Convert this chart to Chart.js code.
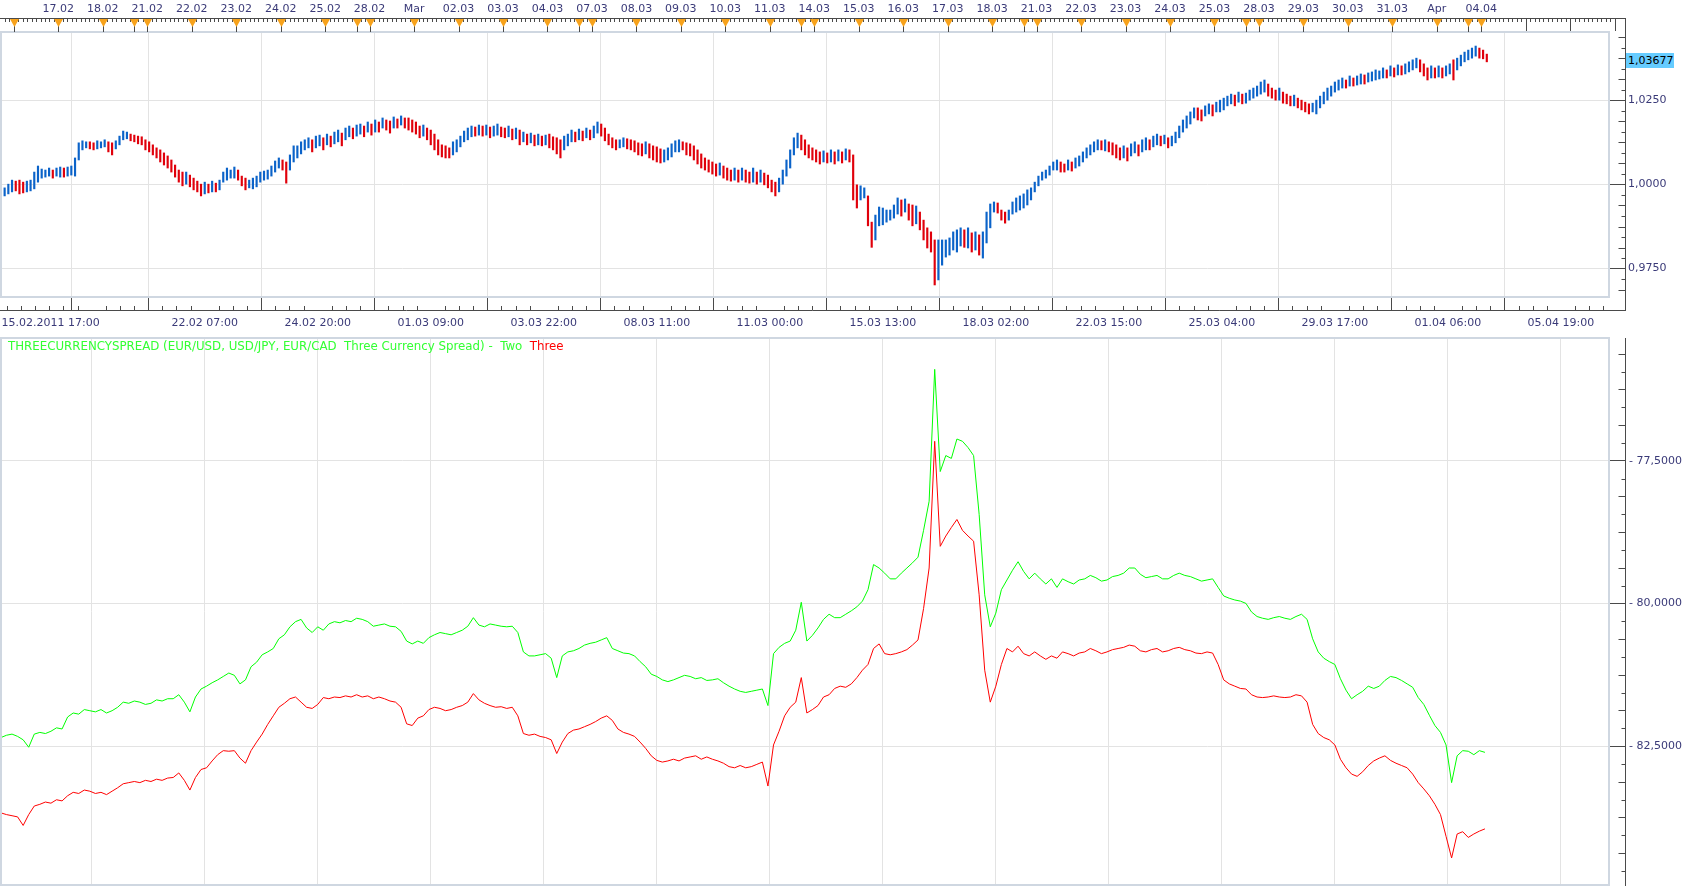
<!DOCTYPE html>
<html>
<head>
<meta charset="utf-8">
<title>Three Currency Spread</title>
<script src="https://cdn.jsdelivr.net/npm/chart.js@4.4.1/dist/chart.umd.min.js"></script>
<style>
    body { margin: 0; background: #fff; width: 1682px; height: 888px; overflow: hidden; position: relative; font-family: 'DejaVu Sans', Verdana, sans-serif; }
    #priceChart { position: absolute; left: 0; top: 0; }
    #spreadChart { position: absolute; left: 0; top: 337px; }
    #legend { position: absolute; left: 8px; top: 340px; font-size: 11.8px; line-height: 13px; color: #33ff33; white-space: pre; }
    #legend .three { color: #ff0000; }
    #lastPrice { position: absolute; left: 1626px; top: 53px; width: 48px; height: 15px; line-height: 15px; background: #66ccff; color: #000; font-size: 11px; padding-left: 2px; box-sizing: border-box; }
</style>
</head>
<body>
<canvas id="priceChart" width="1682" height="337"></canvas>
<canvas id="spreadChart" width="1682" height="551"></canvas>
<div id="legend">THREECURRENCYSPREAD (EUR/USD, USD/JPY, EUR/CAD  Three Currency Spread) -  Two  <span class="three">Three</span></div>
<div id="lastPrice">1,03677</div>
<script>
// Hourly bar index, 0 = 15.02.2011 17:00
const barHours = 2;
const lineHours = 3;

// Day markers on the top strip
const dayTicks = [7, 31, 55, 72, 79, 103, 127, 151, 175, 192, 199, 223, 247, 271, 295, 312, 319, 343, 367, 391,
    415, 432, 439, 463, 487, 511, 535, 552, 559, 583, 607, 631, 655, 672, 679, 703, 727, 751, 775, 792, 799];
const dayLabels = ['', '17.02', '18.02', '', '21.02', '22.02', '23.02', '24.02', '25.02', '', '28.02', 'Mar', '02.03',
    '03.03', '04.03', '', '07.03', '08.03', '09.03', '10.03', '11.03', '', '14.03', '15.03', '16.03', '17.03', '18.03',
    '', '21.03', '22.03', '23.03', '24.03', '25.03', '', '28.03', '29.03', '30.03', '31.03', 'Apr', '', '04.04'];
const futureDayTicks = [823, 847, 871];

// Time axis between the panels
const timeTicks = [26.8, 49, 110, 171, 232, 293, 354, 415, 476, 537, 598, 659, 720, 781, 842];
const timeLabels = ['15.02.2011 17:00', '', '22.02 07:00', '24.02 20:00', '01.03 09:00', '03.03 22:00', '08.03 11:00',
    '11.03 00:00', '15.03 13:00', '18.03 02:00', '22.03 15:00', '25.03 04:00', '29.03 17:00', '01.04 06:00', '05.04 19:00'];

const priceTicks = [0.975, 1.0, 1.025];
const priceLabels = ['0,9750', '1,0000', '1,0250'];
const spreadTicks = [77.5, 80, 82.5];
const spreadLabels = ['- 77,5000', '- 80,0000', '- 82,5000'];

// Price bars (2 hours each)
const barHigh = [
    0.9984, 0.9990, 1.0001, 1.0013, 1.0010, 1.0013, 1.0007, 1.0010, 1.0013, 1.0037,
    1.0055, 1.0046, 1.0043, 1.0049, 1.0043, 1.0049, 1.0052, 1.0049, 1.0052, 1.0055,
    1.0079, 1.0124, 1.0130, 1.0127, 1.0127, 1.0124, 1.0130, 1.0127, 1.0133, 1.0127,
    1.0124, 1.0130, 1.0144, 1.0159, 1.0156, 1.0150, 1.0147, 1.0144, 1.0142, 1.0133,
    1.0127, 1.0118, 1.0109, 1.0103, 1.0094, 1.0085, 1.0073, 1.0058, 1.0043, 1.0037,
    1.0037, 1.0028, 1.0019, 1.0010, 1.0001, 1.0007, 1.0001, 1.0010, 1.0004, 1.0013,
    1.0037, 1.0049, 1.0043, 1.0052, 1.0043, 1.0025, 1.0019, 1.0013, 1.0019, 1.0025,
    1.0037, 1.0040, 1.0043, 1.0055, 1.0070, 1.0079, 1.0073, 1.0067, 1.0088, 1.0115,
    1.0115, 1.0127, 1.0133, 1.0139, 1.0133, 1.0144, 1.0147, 1.0139, 1.0150, 1.0144,
    1.0156, 1.0162, 1.0153, 1.0168, 1.0174, 1.0168, 1.0177, 1.0180, 1.0174, 1.0186,
    1.0180, 1.0192, 1.0186, 1.0198, 1.0192, 1.0189, 1.0201, 1.0195, 1.0204, 1.0198,
    1.0198, 1.0192, 1.0186, 1.0174, 1.0177, 1.0168, 1.0162, 1.0150, 1.0133, 1.0118,
    1.0115, 1.0109, 1.0127, 1.0133, 1.0144, 1.0159, 1.0168, 1.0174, 1.0171, 1.0177,
    1.0174, 1.0177, 1.0171, 1.0174, 1.0180, 1.0171, 1.0168, 1.0174, 1.0165, 1.0168,
    1.0162, 1.0156, 1.0150, 1.0153, 1.0147, 1.0150, 1.0144, 1.0147, 1.0150, 1.0142,
    1.0139, 1.0133, 1.0144, 1.0150, 1.0162, 1.0156, 1.0165, 1.0159, 1.0168, 1.0162,
    1.0174, 1.0186, 1.0180, 1.0168, 1.0150, 1.0139, 1.0133, 1.0133, 1.0139, 1.0136,
    1.0133, 1.0130, 1.0124, 1.0121, 1.0127, 1.0121, 1.0115, 1.0112, 1.0106, 1.0103,
    1.0109, 1.0121, 1.0130, 1.0133, 1.0127, 1.0124, 1.0121, 1.0115, 1.0103, 1.0091,
    1.0079, 1.0073, 1.0067, 1.0061, 1.0064, 1.0055, 1.0049, 1.0043, 1.0049, 1.0043,
    1.0049, 1.0043, 1.0037, 1.0049, 1.0037, 1.0043, 1.0034, 1.0028, 1.0013, 1.0007,
    1.0019, 1.0043, 1.0073, 1.0103, 1.0139, 1.0153, 1.0147, 1.0133, 1.0118, 1.0109,
    1.0103, 1.0097, 1.0100, 1.0094, 1.0103, 1.0097, 1.0103, 1.0097, 1.0106, 1.0103,
    1.0088, 0.9999, 0.9996, 0.9990, 0.9966, 0.9888, 0.9909, 0.9933, 0.9930, 0.9924,
    0.9924, 0.9939, 0.9960, 0.9954, 0.9957, 0.9942, 0.9939, 0.9936, 0.9918, 0.9894,
    0.9871, 0.9859, 0.9835, 0.9835, 0.9835, 0.9835, 0.9841, 0.9859, 0.9865, 0.9871,
    0.9865, 0.9871, 0.9856, 0.9859, 0.9850, 0.9859, 0.9918, 0.9942, 0.9948, 0.9945,
    0.9924, 0.9918, 0.9924, 0.9948, 0.9960, 0.9966, 0.9972, 0.9984, 0.9990, 1.0007,
    1.0025, 1.0037, 1.0043, 1.0055, 1.0067, 1.0073, 1.0067, 1.0061, 1.0073, 1.0067,
    1.0079, 1.0085, 1.0097, 1.0109, 1.0118, 1.0127, 1.0133, 1.0130, 1.0133, 1.0127,
    1.0124, 1.0118, 1.0109, 1.0115, 1.0109, 1.0121, 1.0127, 1.0118, 1.0133, 1.0139,
    1.0133, 1.0144, 1.0150, 1.0144, 1.0147, 1.0139, 1.0144, 1.0156, 1.0174, 1.0192,
    1.0204, 1.0216, 1.0228, 1.0228, 1.0222, 1.0234, 1.0240, 1.0237, 1.0245, 1.0251,
    1.0257, 1.0263, 1.0269, 1.0266, 1.0275, 1.0269, 1.0272, 1.0281, 1.0287, 1.0293,
    1.0305, 1.0311, 1.0299, 1.0287, 1.0281, 1.0287, 1.0275, 1.0269, 1.0263, 1.0266,
    1.0257, 1.0251, 1.0245, 1.0240, 1.0242, 1.0251, 1.0263, 1.0275, 1.0287, 1.0293,
    1.0305, 1.0311, 1.0317, 1.0311, 1.0323, 1.0317, 1.0323, 1.0329, 1.0326, 1.0332,
    1.0335, 1.0341, 1.0338, 1.0347, 1.0341, 1.0353, 1.0347, 1.0356, 1.0353, 1.0359,
    1.0365, 1.0371, 1.0376, 1.0371, 1.0359, 1.0347, 1.0353, 1.0347, 1.0353, 1.0347,
    1.0353, 1.0359, 1.0371, 1.0376, 1.0385, 1.0394, 1.0400, 1.0406, 1.0412, 1.0406,
    1.0400, 1.0388
];
const barLow = [
    0.9960, 0.9966, 0.9972, 0.9978, 0.9981, 0.9972, 0.9975, 0.9978, 0.9981, 0.9987,
    1.0007, 1.0019, 1.0022, 1.0025, 1.0019, 1.0025, 1.0022, 1.0022, 1.0025, 1.0028,
    1.0025, 1.0073, 1.0103, 1.0109, 1.0106, 1.0103, 1.0106, 1.0109, 1.0112, 1.0097,
    1.0088, 1.0106, 1.0118, 1.0133, 1.0136, 1.0130, 1.0127, 1.0121, 1.0118, 1.0103,
    1.0097, 1.0088, 1.0079, 1.0067, 1.0058, 1.0049, 1.0037, 1.0022, 1.0007, 0.9996,
    1.0001, 0.9993, 0.9984, 0.9978, 0.9966, 0.9972, 0.9975, 0.9978, 0.9978, 0.9984,
    1.0007, 1.0013, 1.0019, 1.0019, 1.0013, 0.9996, 0.9984, 0.9990, 0.9987, 0.9993,
    1.0007, 1.0013, 1.0016, 1.0025, 1.0037, 1.0049, 1.0043, 1.0004, 1.0043, 1.0067,
    1.0079, 1.0091, 1.0103, 1.0109, 1.0097, 1.0109, 1.0115, 1.0103, 1.0118, 1.0112,
    1.0121, 1.0127, 1.0115, 1.0133, 1.0142, 1.0136, 1.0144, 1.0150, 1.0142, 1.0156,
    1.0147, 1.0156, 1.0156, 1.0168, 1.0162, 1.0153, 1.0168, 1.0168, 1.0177, 1.0168,
    1.0162, 1.0156, 1.0150, 1.0139, 1.0144, 1.0133, 1.0118, 1.0103, 1.0088, 1.0082,
    1.0079, 1.0079, 1.0088, 1.0097, 1.0112, 1.0127, 1.0133, 1.0142, 1.0144, 1.0147,
    1.0144, 1.0147, 1.0139, 1.0144, 1.0147, 1.0142, 1.0139, 1.0142, 1.0133, 1.0136,
    1.0118, 1.0127, 1.0118, 1.0124, 1.0115, 1.0118, 1.0115, 1.0118, 1.0109, 1.0103,
    1.0091, 1.0079, 1.0103, 1.0115, 1.0127, 1.0127, 1.0133, 1.0130, 1.0139, 1.0133,
    1.0139, 1.0153, 1.0144, 1.0130, 1.0118, 1.0109, 1.0103, 1.0109, 1.0112, 1.0106,
    1.0103, 1.0097, 1.0088, 1.0085, 1.0091, 1.0079, 1.0073, 1.0067, 1.0064, 1.0067,
    1.0073, 1.0082, 1.0097, 1.0097, 1.0103, 1.0088, 1.0085, 1.0073, 1.0061, 1.0049,
    1.0043, 1.0037, 1.0031, 1.0025, 1.0028, 1.0019, 1.0013, 1.0010, 1.0013, 1.0007,
    1.0013, 1.0007, 1.0004, 1.0007, 1.0001, 1.0007, 0.9999, 0.9990, 0.9978, 0.9966,
    0.9978, 1.0001, 1.0025, 1.0049, 1.0088, 1.0109, 1.0103, 1.0088, 1.0079, 1.0073,
    1.0067, 1.0061, 1.0067, 1.0064, 1.0067, 1.0061, 1.0070, 1.0064, 1.0073, 1.0067,
    0.9954, 0.9930, 0.9954, 0.9960, 0.9877, 0.9813, 0.9835, 0.9877, 0.9880, 0.9888,
    0.9894, 0.9900, 0.9912, 0.9906, 0.9918, 0.9894, 0.9877, 0.9883, 0.9865, 0.9835,
    0.9811, 0.9799, 0.9701, 0.9716, 0.9760, 0.9784, 0.9790, 0.9805, 0.9799, 0.9817,
    0.9813, 0.9811, 0.9799, 0.9805, 0.9790, 0.9781, 0.9826, 0.9871, 0.9918, 0.9915,
    0.9894, 0.9885, 0.9894, 0.9912, 0.9918, 0.9924, 0.9930, 0.9939, 0.9954, 0.9978,
    0.9996, 1.0013, 1.0019, 1.0028, 1.0043, 1.0043, 1.0037, 1.0037, 1.0043, 1.0040,
    1.0049, 1.0055, 1.0067, 1.0079, 1.0088, 1.0097, 1.0103, 1.0103, 1.0100, 1.0097,
    1.0088, 1.0079, 1.0073, 1.0079, 1.0070, 1.0085, 1.0094, 1.0085, 1.0097, 1.0103,
    1.0103, 1.0112, 1.0118, 1.0115, 1.0121, 1.0109, 1.0115, 1.0124, 1.0139, 1.0156,
    1.0168, 1.0180, 1.0198, 1.0192, 1.0189, 1.0204, 1.0210, 1.0204, 1.0216, 1.0216,
    1.0222, 1.0234, 1.0240, 1.0234, 1.0245, 1.0240, 1.0242, 1.0251, 1.0257, 1.0263,
    1.0269, 1.0275, 1.0263, 1.0257, 1.0251, 1.0251, 1.0242, 1.0240, 1.0234, 1.0234,
    1.0228, 1.0222, 1.0216, 1.0210, 1.0216, 1.0210, 1.0228, 1.0240, 1.0251, 1.0263,
    1.0275, 1.0281, 1.0287, 1.0287, 1.0293, 1.0293, 1.0296, 1.0299, 1.0299, 1.0305,
    1.0308, 1.0311, 1.0314, 1.0317, 1.0317, 1.0323, 1.0320, 1.0326, 1.0326, 1.0329,
    1.0335, 1.0341, 1.0347, 1.0335, 1.0323, 1.0311, 1.0317, 1.0317, 1.0320, 1.0317,
    1.0323, 1.0329, 1.0311, 1.0341, 1.0353, 1.0365, 1.0371, 1.0376, 1.0382, 1.0376,
    1.0374, 1.0365
];

// Spread indicator lines (3 hours each)
const spreadTwo = [
    82.35, 82.31, 82.29, 82.33, 82.39, 82.52, 82.29, 82.26, 82.28, 82.24,
    82.18, 82.20, 81.99, 81.92, 81.94, 81.86, 81.88, 81.90, 81.86, 81.92,
    81.88, 81.82, 81.73, 81.75, 81.71, 81.73, 81.77, 81.75, 81.69, 81.71,
    81.67, 81.67, 81.60, 81.73, 81.90, 81.64, 81.50, 81.45, 81.39, 81.34,
    81.28, 81.22, 81.26, 81.41, 81.34, 81.11, 81.03, 80.90, 80.85, 80.79,
    80.62, 80.55, 80.41, 80.32, 80.28, 80.43, 80.51, 80.41, 80.47, 80.36,
    80.32, 80.34, 80.30, 80.32, 80.26, 80.28, 80.32, 80.40, 80.38, 80.36,
    80.40, 80.41, 80.49, 80.66, 80.71, 80.66, 80.70, 80.60, 80.55, 80.51,
    80.53, 80.55, 80.51, 80.47, 80.40, 80.25, 80.38, 80.41, 80.36, 80.38,
    80.40, 80.41, 80.40, 80.51, 80.85, 80.92, 80.92, 80.90, 80.88, 80.96,
    81.30, 80.92, 80.85, 80.83, 80.79, 80.73, 80.70, 80.68, 80.64, 80.60,
    80.79, 80.83, 80.87, 80.88, 80.92, 81.02, 81.11, 81.24, 81.28, 81.34,
    81.37, 81.34, 81.30, 81.26, 81.28, 81.32, 81.30, 81.35, 81.34, 81.32,
    81.39, 81.45, 81.50, 81.54, 81.56, 81.54, 81.52, 81.50, 81.79, 80.88,
    80.77, 80.70, 80.66, 80.47, 79.98, 80.66, 80.56, 80.43, 80.28, 80.19,
    80.25, 80.25, 80.19, 80.13, 80.06, 79.96, 79.76, 79.32, 79.38, 79.47,
    79.57, 79.57, 79.47, 79.38, 79.29, 79.19, 78.72, 78.21, 75.90, 77.69,
    77.41, 77.46, 77.12, 77.16, 77.27, 77.41, 78.44, 79.85, 80.41, 80.17,
    79.76, 79.59, 79.42, 79.27, 79.44, 79.57, 79.47, 79.57, 79.66, 79.57,
    79.72, 79.57, 79.62, 79.66, 79.59, 79.57, 79.51, 79.55, 79.61, 79.59,
    79.53, 79.51, 79.47, 79.38, 79.38, 79.49, 79.55, 79.53, 79.51, 79.57,
    79.57, 79.51, 79.47, 79.51, 79.53, 79.57, 79.61, 79.59, 79.57, 79.72,
    79.87, 79.91, 79.94, 79.96, 80.00, 80.15, 80.23, 80.26, 80.28, 80.25,
    80.23, 80.26, 80.28, 80.23, 80.19, 80.28, 80.62, 80.85, 80.96, 81.02,
    81.07, 81.32, 81.52, 81.67, 81.60, 81.54, 81.45, 81.49, 81.45, 81.35,
    81.28, 81.30, 81.35, 81.41, 81.47, 81.65, 81.77, 81.96, 82.14, 82.26,
    82.48, 83.14, 82.67, 82.58, 82.59, 82.65, 82.58, 82.61
];
const spreadThree = [
    83.67, 83.70, 83.72, 83.74, 83.89, 83.70, 83.55, 83.52, 83.48, 83.50,
    83.44, 83.46, 83.37, 83.31, 83.33, 83.27, 83.29, 83.33, 83.31, 83.35,
    83.29, 83.23, 83.16, 83.14, 83.12, 83.14, 83.10, 83.12, 83.08, 83.10,
    83.06, 83.05, 82.97, 83.10, 83.27, 83.05, 82.91, 82.88, 82.76, 82.65,
    82.58, 82.59, 82.58, 82.71, 82.80, 82.58, 82.43, 82.29, 82.12, 81.97,
    81.82, 81.75, 81.67, 81.64, 81.73, 81.82, 81.84, 81.77, 81.65, 81.67,
    81.64, 81.65, 81.62, 81.64, 81.60, 81.64, 81.62, 81.67, 81.64, 81.67,
    81.71, 81.73, 81.82, 82.11, 82.14, 82.01, 81.97, 81.86, 81.82, 81.84,
    81.88, 81.86, 81.82, 81.79, 81.73, 81.58, 81.69, 81.75, 81.79, 81.82,
    81.81, 81.84, 81.82, 81.97, 82.28, 82.31, 82.29, 82.33, 82.35, 82.39,
    82.63, 82.43, 82.28, 82.22, 82.20, 82.16, 82.12, 82.07, 82.01, 81.97,
    82.05, 82.20, 82.26, 82.29, 82.33, 82.43, 82.54, 82.67, 82.75, 82.78,
    82.76, 82.73, 82.76, 82.71, 82.69, 82.67, 82.73, 82.69, 82.73, 82.76,
    82.80, 82.86, 82.88, 82.84, 82.88, 82.86, 82.82, 82.78, 83.20, 82.48,
    82.24, 81.97, 81.82, 81.73, 81.30, 81.92, 81.86, 81.79, 81.64, 81.60,
    81.49, 81.45, 81.47, 81.41, 81.30, 81.17, 81.07, 80.79, 80.71, 80.88,
    80.90, 80.88, 80.85, 80.81, 80.73, 80.64, 80.09, 79.38, 77.16, 79.00,
    78.82, 78.67, 78.53, 78.72, 78.82, 78.91, 79.85, 81.17, 81.73, 81.45,
    81.07, 80.79, 80.85, 80.75, 80.88, 80.92, 80.85, 80.92, 80.98, 80.92,
    80.96, 80.85, 80.88, 80.92, 80.87, 80.85, 80.79, 80.83, 80.88, 80.85,
    80.81, 80.79, 80.77, 80.73, 80.75, 80.83, 80.85, 80.81, 80.79, 80.85,
    80.83, 80.79, 80.77, 80.81, 80.83, 80.87, 80.88, 80.85, 80.87, 81.07,
    81.34, 81.41, 81.45, 81.49, 81.50, 81.60, 81.64, 81.65, 81.64, 81.62,
    81.64, 81.65, 81.64, 81.60, 81.62, 81.73, 82.12, 82.28, 82.35, 82.39,
    82.48, 82.73, 82.88, 82.99, 83.03, 82.95, 82.84, 82.76, 82.71, 82.67,
    82.75, 82.80, 82.84, 82.88, 82.99, 83.14, 83.25, 83.37, 83.52, 83.70,
    84.08, 84.46, 84.04, 84.00, 84.10, 84.04, 83.99, 83.95
];

const upColor = '#0b63c9';
const downColor = '#e0000b';
const gridColor = '#e3e3e3';
const frameColor = '#cfd7e1';
const axisColor = '#4a4a4a';
const labelColor = '#3a3a78';
const axisX = 1625.5;

Chart.defaults.font.family = "'DejaVu Sans', Verdana, sans-serif";
Chart.defaults.font.size = 11;
Chart.defaults.color = labelColor;

function crisp(v) { return Math.round(v) + 0.5; }

// Minor ticks on the right-hand value axis
function drawValueTicks(ctx, scale, first, step) {
    for (let k = -40; k <= 60; k++) {
        if (k % 8 === 0) continue;
        const v = first + k * step;
        if (v < scale.min || v > scale.max) continue;
        const py = crisp(scale.getPixelForValue(v));
        const len = k % 2 === 0 ? 7 : 4;
        ctx.moveTo(axisX - len, py);
        ctx.lineTo(axisX, py);
    }
}

const priceDecor = {
    id: 'priceDecor',
    afterDraw(chart) {
        const { ctx, chartArea: a, scales: { x, y } } = chart;
        ctx.save();
        ctx.strokeStyle = frameColor;
        ctx.lineWidth = 2;
        ctx.strokeRect(a.left + 1, a.top + 1, a.right - a.left - 2, a.bottom - a.top - 1);

        ctx.lineWidth = 1;
        ctx.strokeStyle = axisColor;
        ctx.beginPath();
        ctx.moveTo(0, 18.5); ctx.lineTo(axisX, 18.5);
        ctx.moveTo(axisX, 18); ctx.lineTo(axisX, 311);
        ctx.moveTo(0, 310.5); ctx.lineTo(axisX, 310.5);

        // date strip ticks
        for (let h = dayTicks[0] - 4.8; h < 872; h += 2.4) {
            const px = crisp(x.getPixelForValue(h));
            ctx.moveTo(px, 18); ctx.lineTo(px, 22);
        }
        dayTicks.forEach(d => {
            const px = crisp(x.getPixelForValue(d));
            ctx.moveTo(px, 26); ctx.lineTo(px, 32);
        });
        futureDayTicks.forEach(d => {
            const px = crisp(x.getPixelForValue(d));
            ctx.moveTo(px, 18); ctx.lineTo(px, 31);
        });

        // minor time ticks
        const major = timeTicks[1], sub = (timeTicks[2] - timeTicks[1]) / 8;
        for (let k = -6; major + k * sub < 869; k++) {
            if (k % 8 === 0) continue;
            const px = crisp(x.getPixelForValue(major + k * sub));
            ctx.moveTo(px, 306); ctx.lineTo(px, 310);
        }

        drawValueTicks(ctx, y, priceTicks[0], (priceTicks[1] - priceTicks[0]) / 8);
        ctx.stroke();

        // day markers
        ctx.fillStyle = '#f7a21b';
        dayTicks.forEach(d => {
            const px = crisp(x.getPixelForValue(d));
            ctx.beginPath();
            ctx.moveTo(px - 4.5, 19);
            ctx.lineTo(px + 4.5, 19);
            ctx.lineTo(px, 27);
            ctx.closePath();
            ctx.fill();
        });
        ctx.restore();
    }
};

const spreadDecor = {
    id: 'spreadDecor',
    afterDraw(chart) {
        const { ctx, chartArea: a, scales: { y } } = chart;
        ctx.save();
        ctx.strokeStyle = frameColor;
        ctx.lineWidth = 2;
        ctx.strokeRect(a.left + 1, a.top + 1, a.right - a.left - 2, a.bottom - a.top - 2);
        ctx.lineWidth = 1;
        ctx.strokeStyle = axisColor;
        ctx.beginPath();
        ctx.moveTo(axisX, a.top + 1); ctx.lineTo(axisX, a.bottom);
        drawValueTicks(ctx, y, spreadTicks[0], (spreadTicks[1] - spreadTicks[0]) / 8);
        ctx.stroke();
        ctx.restore();
    }
};

function fixedTicks(list) {
    return scale => { scale.ticks = list.map(v => ({ value: v })); };
}

function gridByIndex(color) {
    return c => (c.index === 0 ? 'rgba(0,0,0,0)' : color);
}

// Top panel: price bars
let prevMid = null;
const barColors = barHigh.map((h, k) => {
    const mid = (h + barLow[k]) / 2;
    const up = prevMid === null || mid >= prevMid;
    prevMid = mid;
    return up ? upColor : downColor;
});

new Chart(document.getElementById('priceChart'), {
    type: 'bar',
    data: {
        datasets: [{
            data: barHigh.map((h, k) => ({ x: k * barHours, y: [barLow[k], h] })),
            backgroundColor: barColors,
            borderWidth: 0,
            barThickness: 1.5
        }]
    },
    options: {
        responsive: false,
        animation: false,
        events: [],
        layout: { padding: 0 },
        plugins: { legend: { display: false }, tooltip: { enabled: false } },
        scales: {
            x: {
                type: 'linear', position: 'bottom', min: -0.5, max: 868.5, offset: false, bounds: 'data',
                afterBuildTicks: fixedTicks(timeTicks),
                afterFit: s => { s.height = 40; s.paddingLeft = 0; s.paddingRight = 0; },
                grid: { color: gridByIndex(gridColor), tickColor: gridByIndex(axisColor), tickLength: 13 },
                border: { display: false },
                ticks: { autoSkip: false, maxRotation: 0, padding: 7, callback: (v, i) => timeLabels[i] }
            },
            xTop: {
                axis: 'x', type: 'linear', position: 'top', min: -0.5, max: 868.5, offset: false, bounds: 'data',
                afterBuildTicks: fixedTicks(dayTicks),
                afterFit: s => { s.height = 31; s.paddingLeft = 0; s.paddingRight = 0; },
                grid: { drawOnChartArea: false, drawTicks: false },
                border: { display: false },
                ticks: { autoSkip: false, maxRotation: 0, padding: 15, callback: (v, i) => dayLabels[i] }
            },
            y: {
                type: 'linear', position: 'right', min: 0.96652, max: 1.04568, bounds: 'data',
                afterBuildTicks: fixedTicks(priceTicks),
                afterFit: s => { s.width = 72; s.paddingTop = 0; s.paddingBottom = 0; },
                grid: { color: gridColor, tickColor: axisColor, tickLength: 15 },
                border: { display: false },
                ticks: { padding: 3, callback: (v, i) => priceLabels[i] }
            }
        }
    },
    plugins: [priceDecor]
});

// Bottom panel: spread lines
new Chart(document.getElementById('spreadChart'), {
    type: 'line',
    data: {
        datasets: [
            {
                label: 'Two',
                data: spreadTwo.map((v, j) => ({ x: j * lineHours, y: v })),
                borderColor: '#00ff00',
                borderWidth: 1,
                pointRadius: 0,
                tension: 0
            },
            {
                label: 'Three',
                data: spreadThree.map((v, j) => ({ x: j * lineHours, y: v })),
                borderColor: '#ff0000',
                borderWidth: 1,
                pointRadius: 0,
                tension: 0
            }
        ]
    },
    options: {
        responsive: false,
        animation: false,
        events: [],
        layout: { padding: 0 },
        plugins: { legend: { display: false }, tooltip: { enabled: false } },
        scales: {
            x: {
                type: 'linear', min: -0.5, max: 868.5, offset: false, bounds: 'data',
                afterBuildTicks: fixedTicks(timeTicks),
                afterFit: s => { s.height = 2; s.paddingLeft = 0; s.paddingRight = 0; },
                grid: { color: gridByIndex(gridColor), drawTicks: false },
                border: { display: false },
                ticks: { display: false }
            },
            y: {
                type: 'linear', position: 'right', reverse: true, min: 75.333, max: 84.951, bounds: 'data',
                afterBuildTicks: fixedTicks(spreadTicks),
                afterFit: s => { s.width = 72; s.paddingTop = 0; s.paddingBottom = 0; },
                grid: { color: gridColor, tickColor: axisColor, tickLength: 15 },
                border: { display: false },
                ticks: { padding: 4, callback: (v, i) => spreadLabels[i] }
            }
        }
    },
    plugins: [spreadDecor]
});
</script>
</body>
</html>
